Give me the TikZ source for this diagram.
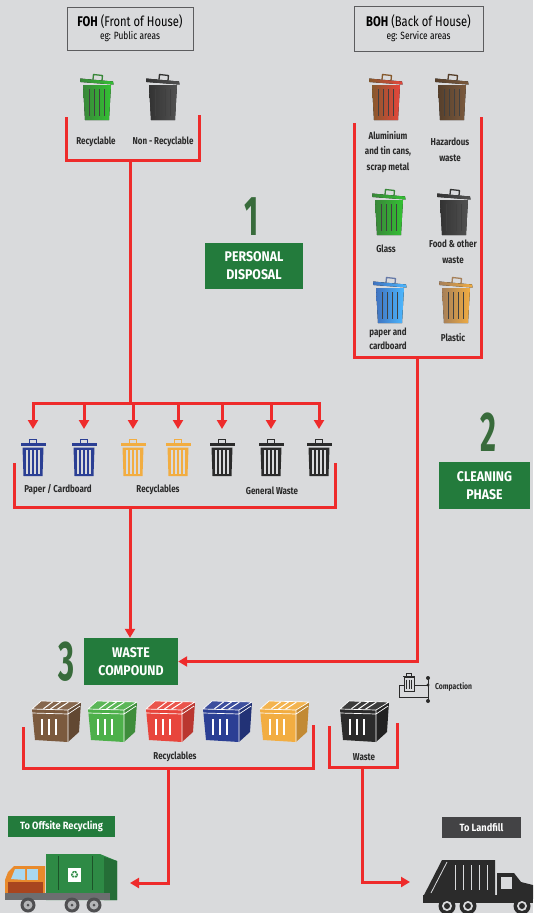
\documentclass[tikz,border=0pt]{standalone}
\usepackage{fontspec}
\setmainfont{Fira Sans}[FakeStretch=0.8]
\newfontfamily\numfont{Fira Sans}[FakeStretch=0.55]
\newfontfamily\capfont{Fira Sans}[FakeStretch=0.88]
\newfontfamily\symfont{DejaVu Sans}
\usetikzlibrary{arrows.meta,calc}

\definecolor{sheet}{HTML}{D9DADC}
\definecolor{wire}{HTML}{EE2B2B}
\definecolor{stagegreen}{HTML}{237B3C}
\definecolor{stagenum}{HTML}{386B3B}
\definecolor{frameline}{HTML}{5C5C5E}
\definecolor{labelink}{HTML}{2A2A2A}
\definecolor{darkplate}{HTML}{434345}
\definecolor{navy}{HTML}{2B3F94}
\definecolor{amber}{HTML}{F2AD41}
\definecolor{coal}{HTML}{2B2B2B}
\definecolor{dbrown}{HTML}{7B5A3E}
\definecolor{dgreen}{HTML}{4DB04A}
\definecolor{dred}{HTML}{E8453C}
\definecolor{truckgreen}{HTML}{2E8A45}
\definecolor{cabor}{HTML}{E98A2C}
\definecolor{cabred}{HTML}{A8451F}
\definecolor{pane}{HTML}{A9D8F0}
\definecolor{chassis}{HTML}{6D6E70}
\definecolor{tyre}{HTML}{4F4F51}
\definecolor{hub}{HTML}{B4B5B7}

\tikzset{
  wire/.style={draw=wire, line width=3pt},
  wirearrow/.style={wire, -{Triangle[length=9pt,width=10pt]}},
  headbox/.style={draw=frameline, line width=1pt, minimum width=126pt,
    minimum height=43pt, align=center, inner sep=0pt, text=black},
  stagebox/.style={fill=stagegreen, text=white, align=center, inner sep=0pt,
    font=\capfont\bfseries\fontsize{14}{18}\selectfont},
  stagenum/.style={text=stagenum, font=\numfont\bfseries\fontsize{56}{56}\selectfont, inner sep=0pt},
  binlabel/.style={text=labelink, align=center, inner sep=0pt,
    font=\bfseries\fontsize{10}{15.5}\selectfont},
  plate/.style={text=white, inner sep=0pt, align=center,
    font=\capfont\bfseries\fontsize{10.5}{12}\selectfont},
  % tilted-lid waste can, shaded from #1 (left) to #2 (right)
  pics/lidcan/.style 2 args={code={
    \draw[#1, line width=1.3pt, line join=round] (13,7.5) -- (13.5,2.5) -- (22.5,3.5) -- (22,8.5);
    \fill[left color=#1, right color=#2] (0,6.5) -- (33,9.5) -- (33.5,12.5) -- (0.5,10) -- cycle;
    \fill[left color=#1, right color=#2] (3,13) -- (31,13) -- (29,48) -- (5,48) -- cycle;
    \foreach \sx in {9.5,14.5,19.5,24.5}
      \draw[black!75, line width=1.2pt] (\sx,17) -- (\sx,44);
  }},
  % front-view bin with handle, lid and four slots
  pics/rowbin/.style={code={
    \draw[#1, line width=1pt] (9,5) -- (9,1.5) -- (16,1.5) -- (16,5);
    \fill[#1] (0,5) rectangle (25,8);
    \fill[#1] (2,9.5) -- (23,9.5) -- (22,38) -- (3,38) -- cycle;
    \foreach \sx in {5.5,9.5,13.5,17.5}
      \fill[sheet] (\sx,12) rectangle ++(2,23.5);
  }},
  % skip container in perspective
  pics/dumpster/.style={code={
    \fill[#1!80!black] (37,10) -- (50,2) -- (48,32) -- (37,42) -- cycle;
    \fill[#1] (1,9) -- (37,10) -- (37,42) -- (4,40) -- cycle;
    \fill[#1!92!white] (1,9) -- (10,1) -- (50,2) -- (37,10) -- cycle;
    \draw[white, line width=0.7pt, line join=round]
      (1,9) -- (10,1) -- (50,2) -- (37,10) -- cycle (37,10) -- (37,42)
      (1,13) -- (37,14) -- (49,6);
    \foreach \t in {0.3,0.5,0.7}
      \draw[white, line width=1pt] ($(2,8.5)!\t!(37,9.5)$) -- ($(10,1.5)!\t!(49,2.5)$);
    \foreach \sx in {11,18,25}
      \draw[white, line width=1.2pt] (\sx,19) -- (\sx,35);
  }}
}

\begin{document}
\begin{tikzpicture}[x=1pt,y=-1pt]
\fill[sheet] (0,0) rectangle (533,913);
\path[use as bounding box] (0,0) rectangle (533,913);

% ---------- headings ----------
\node[headbox] (foh) at (130,28.5)
  {{\fontsize{14}{16}\selectfont\textbf{FOH} (Front of House)}\\[1pt]{\fontsize{10.5}{12}\selectfont eg: Public areas}};
\node[headbox, minimum width=129pt, minimum height=45pt] (boh) at (418.5,28.5)
  {{\fontsize{14}{16}\selectfont\textbf{BOH} (Back of House)}\\[1pt]{\fontsize{10.5}{12}\selectfont eg: Service areas}};

% ---------- front of house cans ----------
\pic at (80,72) {lidcan={black!45!green!55!gray}{green!70!black!80!white}};
\pic at (146,72) {lidcan={black!80}{black!68}};
\node[binlabel] (lrec) at (96,142) {Recyclable};
\node[binlabel] (lnon) at (163,142) {Non - Recyclable};

% ---------- back of house cans ----------
\pic at (369,72) {lidcan={brown!70!black}{dred}};
\pic at (435,72) {lidcan={dbrown!70!black}{dbrown}};
\pic at (372,187) {lidcan={black!45!green!55!gray}{green!70!black!80!white}};
\pic at (437,187) {lidcan={black!80}{black!68}};
\pic at (373,275) {lidcan={cyan!40!blue!50!gray}{cyan!60!blue!70!white}};
\pic at (439,275) {lidcan={brown!60!gray}{amber}};
\node[binlabel] (lalu) at (388,152) {Aluminium\\and tin cans,\\scrap metal};
\node[binlabel, font=\bfseries\fontsize{10}{16}\selectfont] (lhaz) at (450,150) {Hazardous\\waste};
\node[binlabel] (lgla) at (386,249) {Glass};
\node[binlabel, font=\bfseries\fontsize{10}{16}\selectfont] (lfood) at (453,252) {Food \& other\\waste};
\node[binlabel, font=\bfseries\fontsize{10}{14}\selectfont] (lpap) at (388,339) {paper and\\cardboard};
\node[binlabel] (lpla) at (453,338) {Plastic};

% ---------- stage markers ----------
\node[stagenum] (n1) at (252,217) {1};
\node[stagebox, minimum width=98pt, minimum height=46pt] (s1) at (254,266) {PERSONAL\\DISPOSAL};
\node[stagenum] (n2) at (488,432) {2};
\node[stagebox, minimum width=91pt, minimum height=47pt] (s2) at (484.5,485.5) {CLEANING\\PHASE};
\node[stagenum] (n3) at (67,662) {3};
\node[stagebox, minimum width=94pt, minimum height=47pt] (s3) at (131,661.5) {WASTE\\COMPOUND};

% ---------- sorting row ----------
\foreach \name/\cx/\col in {b1/33/navy, b2/84/navy, b3/133/amber, b4/178/amber,
                             b5/222/coal, b6/271/coal, b7/319/coal}{
  \pic at (\cx-12.5,438) {rowbin=\col};
  \coordinate (\name) at (\cx,429);
}
\node[binlabel] (lpc) at (58,490) {Paper / Cardboard};
\node[binlabel] (lrcy) at (158,490) {Recyclables};
\node[binlabel] (lgen) at (272,491) {General Waste};

% ---------- compound containers ----------
\pic at (31,700) {dumpster=dbrown};
\pic at (87,700) {dumpster=dgreen};
\pic at (145,700) {dumpster=dred};
\pic at (202,700) {dumpster=navy};
\pic at (259,700) {dumpster=amber};
\pic at (339,700) {dumpster=coal};
\node[binlabel] (lrc2) at (175,757) {Recyclables};
\node[binlabel] (lwas) at (364,757) {Waste};

% compaction symbol
\begin{scope}[shift={(398,673)}, labelink, line width=1pt]
  \draw (8.5,2.5) -- (8.5,0.5) -- (13.5,0.5) -- (13.5,2.5);
  \draw (5,3) -- (17,3);
  \draw (6,4.5) rectangle (16,18);
  \foreach \sx in {8.5,11,13.5} \draw[line width=0.7pt] (\sx,6.5) -- (\sx,16);
  \draw (6,12) -- (1.5,12) -- (1.5,24) -- (30,24);
  \draw (16,12) -- (30,12);
  \draw (30,5) -- (30,28);
  \fill (30,5) circle (2);
  \fill (30,12) circle (1.6);
  \fill (30,28) circle (2);
\end{scope}
\node[text=labelink, font=\bfseries\fontsize{8.5}{9}\selectfont, anchor=west, inner sep=0pt] (lcmp) at (435,687) {Compaction};

% ---------- destinations ----------
\node[plate, fill=stagegreen, minimum width=107pt, minimum height=21pt] (offsite) at (61.5,826.5) {To Offsite Recycling};
\node[plate, fill=darkplate, minimum width=79pt, minimum height=21pt] (landfill) at (481.5,827.5) {To Landfill};

% recycling truck
\fill[truckgreen] (46,854) -- (100,854) -- (117,861) -- (117,900) -- (46,900) -- cycle;
\fill[truckgreen!80!black] (104,857) -- (117,861) -- (117,900) -- (104,900) -- cycle;
\draw[truckgreen!60!black, line width=0.4pt] (58,856) -- (58,890) (92,856) -- (92,890);
\fill[cabor] (8,872) -- (14,866) -- (45,866) -- (45,897) -- (5,897) -- (5,880) -- cycle;
\fill[cabred] (8,882) rectangle (43,893);
\fill[pane] (11,879) -- (15,869) -- (25,869) -- (25,880) -- cycle;
\fill[pane] (27,869) rectangle (38,880);
\fill[chassis] (5,893) rectangle (110,900);
\fill[white] (68,868) rectangle (81,882);
\node[text=truckgreen, font=\symfont\fontsize{10}{10}\selectfont, inner sep=0pt] (recy) at (74.5,875) {♻};
\foreach \wx in {28,72,94}{
  \fill[tyre] (\wx,905) circle (7.5);
  \fill[hub] (\wx,905) circle (4.5);
  \fill[tyre] (\wx,905) circle (1.5);
}
\coordinate (truckG) at (130,883);

% landfill truck
\fill[coal] (423,897) -- (442,860) -- (495,860) -- (495,898) -- cycle;
\draw[sheet, line width=0.8pt] (431,893) -- (447,862);
\foreach \sx in {455,463,471,479,487} \draw[sheet, line width=0.7pt] (\sx,865) -- (\sx,890);
\fill[coal] (497,873) -- (514,873) -- (521,882) -- (533,885) -- (533,899) -- (497,899) -- cycle;
\fill[sheet] (501,877) rectangle (512,889);
\fill[coal] (423,895) rectangle (533,903);
\foreach \wx in {447,468,522}{
  \fill[coal] (\wx,906) circle (8.5);
  \fill[sheet] (\wx,906) circle (5);
  \fill[coal] (\wx,906) circle (3);
}
\coordinate (truckB) at (410,882);

% ---------- connectors ----------
% front of house collection
\coordinate (fohL) at (66,117);
\coordinate (fohR) at (199,115);
\coordinate (fohJ) at (130,160);
\coordinate (split) at (130,403);
\draw[wire] (fohL) |- (fohJ) -| (fohR);
\draw[wire] (fohJ) -- (split);
\draw[wire, line cap=rect] (b1 |- split) -- (b7 |- split);
\foreach \name in {b1,b2,b3,b4,b5,b6,b7}
  \draw[wirearrow] (\name |- split) -- (\name);

% sorting row to compound
\coordinate (rowL) at (14,463);
\coordinate (rowR) at (335,463);
\coordinate (rowJ) at (130,507);
\draw[wire] (rowL) |- (rowJ) -| (rowR);
\draw[wirearrow] (rowJ) -- (rowJ |- s3.north);

% back of house collection to compound
\coordinate (bohL) at (354,123);
\coordinate (bohR) at (481,117);
\coordinate (bohJ) at (417,357);
\draw[wire] (bohL) |- (bohJ) -| (bohR);
\draw[wirearrow] (bohJ) |- (s3.east);

% recyclables out
\coordinate (dL) at (23,727);
\coordinate (dR) at (313,725);
\coordinate (dJ) at (168,768);
\draw[wire] (dL) |- (dJ) -| (dR);
\draw[wirearrow] (dJ) |- (truckG);

% waste out
\coordinate (wL) at (329,726);
\coordinate (wR) at (397,723);
\coordinate (wJ) at (362,767);
\draw[wire] (wL) |- (wJ) -| (wR);
\draw[wirearrow] (wJ) |- (truckB);
\end{tikzpicture}
\end{document}
